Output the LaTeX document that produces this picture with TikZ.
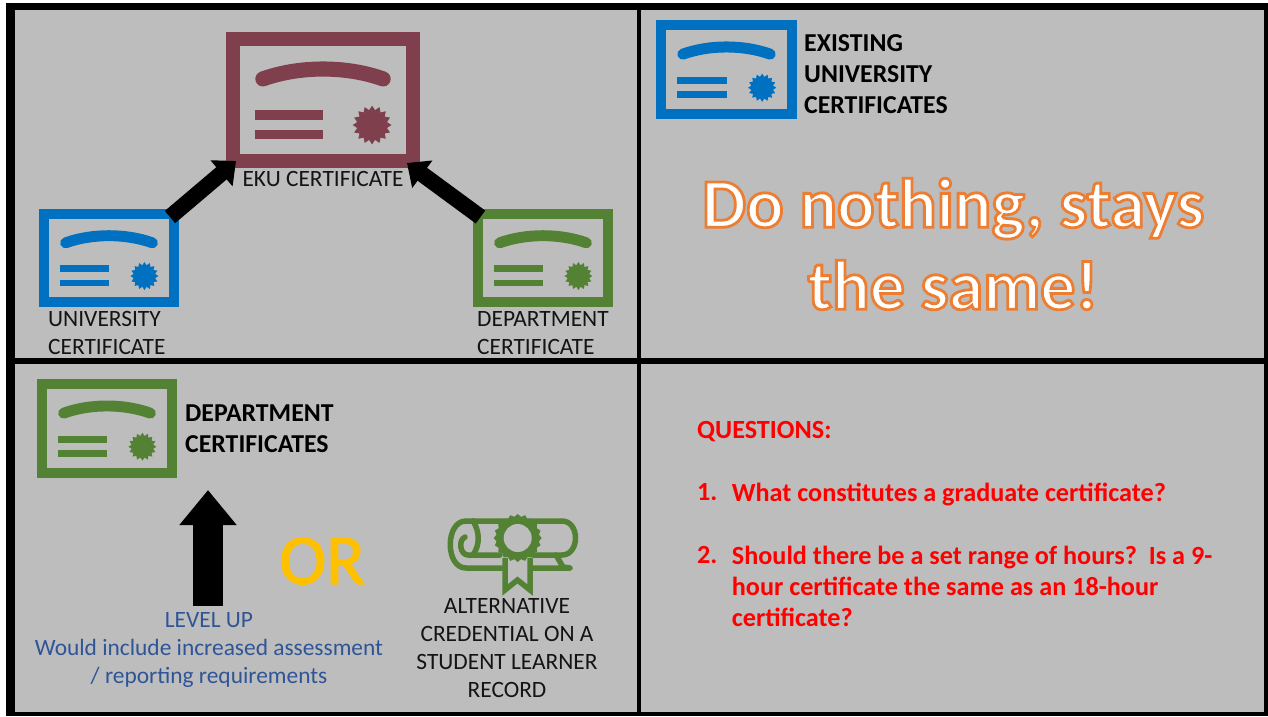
\documentclass[tikz,border=0pt]{standalone}
\usepackage{fontspec}
\setmainfont{Carlito}
\newfontfamily\slogan[FakeBold=4]{Carlito}
\newfontfamily\orfont[FakeBold=2]{Carlito}
\usetikzlibrary{positioning,arrows.meta,shapes.geometric}
\definecolor{panelgray}{HTML}{BDBDBD}
\definecolor{certblue}{HTML}{0070C0}
\definecolor{certgreen}{HTML}{548235}
\definecolor{certmaroon}{HTML}{7F3F4D}
\definecolor{textblue}{HTML}{2F5597}
\definecolor{orgold}{HTML}{FFC000}
\tikzset{
  label/.style={font=\fontsize{23.4}{28}\selectfont,align=center,inner sep=0pt,text=black!92},
  boldlabel/.style={font=\fontsize{25.8}{31}\selectfont\bfseries,align=left,anchor=north west,inner sep=0pt},
  redlabel/.style={font=\fontsize{26.2}{31}\selectfont\bfseries,align=left,anchor=north west,inner sep=0pt,text=red},
  bigarrow/.style={line width=16pt,-{Triangle[length=19pt,width=33pt]}}
}
% #1 name, #2 left, #3 top, #4 width, #5 height, #6 colour
\newcommand{\certicon}[6]{
  \node[draw=#6,line width=0.072*#4 pt,minimum width=0.928*#4 pt,minimum height=#5 pt-0.072*#4 pt,inner sep=0pt,anchor=north west] (#1) at (#2,#3) {};
  \begin{scope}[shift={(#2,#3)},x=#4 pt,y=-#5 pt]
    \draw[#6,line width=0.078*#4 pt,line cap=round] (0.19,0.345) .. controls (0.38,0.248) and (0.62,0.248) .. (0.81,0.345);
    \fill[#6] (0.15,0.574) rectangle (0.5,0.647);
    \fill[#6] (0.15,0.72) rectangle (0.5,0.79);
    \node[star,star points=16,star point ratio=1.28,fill=#6,inner sep=0pt,minimum size=0.2*#4 pt] (#1seal) at (0.753,0.684) {};
  \end{scope}
}
\begin{document}
\begin{tikzpicture}[x=1pt,y=-1pt]
\useasboundingbox (0,0) rectangle (1268,716);
% panels
\fill[white] (0,0) rectangle (1268,716);
\fill[black] (6,3) rectangle (1268,716);
\fill[panelgray] (15,10) rectangle (1264,712);
\fill[black] (637,10) rectangle (641,712);
\fill[black] (15,358) rectangle (1264,364);
% top left
\certicon{eku}{226}{32}{194}{136}{certmaroon}
\certicon{uni}{39}{209}{140}{98}{certblue}
\certicon{dept}{473}{209}{140}{98}{certgreen}
\node[label] (ekulabel) at (323,179) {EKU CERTIFICATE};
\node[label,align=left,anchor=north west] (unilabel) at (48,311) {UNIVERSITY\\CERTIFICATE};
\node[label,align=left,anchor=north west] (deptlabel) at (477,311) {DEPARTMENT\\CERTIFICATE};
\coordinate (unitail) at (170,217);
\coordinate (ekuleft) at (236,161);
\coordinate (depttail) at (480.5,217);
\coordinate (ekuright) at (407,163);
\draw[bigarrow] (unitail) -- (ekuleft);
\draw[bigarrow] (depttail) -- (ekuright);
% top right
\certicon{existing}{656}{20}{141}{99}{certblue}
\node[boldlabel] (existinglabel) at (804,34) {EXISTING\\UNIVERSITY\\CERTIFICATES};
\node[font=\fontsize{70}{82}\selectfont\slogan\bfseries,align=center,inner sep=0pt] (stays) at (953,244)
  {\color{white}\special{pdf:code 0.93 0.49 0.19 RG}Do nothing, stays\\\color{white}\special{pdf:code 0.93 0.49 0.19 RG}the same!};
% bottom left
\certicon{deptb}{37}{379}{140}{99}{certgreen}
\node[boldlabel] (deptblabel) at (185,405) {DEPARTMENT\\CERTIFICATES};
\node[label,text=textblue] (levelup) at (209,649.5) {LEVEL UP\\Would include increased assessment\\/ reporting requirements};
\coordinate (uptip) at (208,490);
\coordinate (uptail) at (208,606);
\draw[line width=30pt,-{Triangle[length=35pt,width=55pt]}] (uptail) -- (uptip);
\node[font=\fontsize{71}{72}\selectfont\orfont,text=orgold,inner sep=0pt] (orword) at (322,561) {OR};
% diploma
\begin{scope}[certgreen,line width=5.5pt,line cap=round,line join=round]
  \draw (473,521) -- (562,521) .. controls (580,521) and (580,555) .. (562,555) -- (533,555);
  \draw (500,555) -- (468,555) .. controls (460,555) and (458,540) .. (465,537);
  \draw (473,521) .. controls (480,532) and (480,545) .. (473,555);
  \draw (473,521) -- (466,521) .. controls (445,521) and (445,568) .. (466,568) -- (502,568);
  \draw (533,568) -- (570,568) -- (563,567) -- (556,555);
  \draw[fill=panelgray,line join=miter,line cap=butt] (505,558) -- (505,590) -- (517.5,580) -- (530,590) -- (530,558);
\end{scope}
\node[star,star points=20,star point ratio=1.12,fill=certgreen,inner sep=0pt,minimum size=48pt] (sealouter) at (517.7,538) {};
\node[circle,fill=panelgray,inner sep=0pt,minimum size=28pt] (sealhole) at (sealouter) {};
\node[label] (altlabel) at (507,648.5) {ALTERNATIVE\\CREDENTIAL ON A\\STUDENT LEARNER\\RECORD};
% bottom right
\node[redlabel] (questions) at (697,421) {QUESTIONS:};
\node[redlabel] (qone) at (697,483) {1.};
\node[redlabel,right=14pt of qone.north east,anchor=north west] (qonetext) {What constitutes a graduate certificate?};
\node[redlabel] (qtwo) at (697,546) {2.};
\node[redlabel,right=14pt of qtwo.north east,anchor=north west] (qtwotext) {Should there be a set range of hours?\ \ Is a 9-\\hour certificate the same as an 18-hour\\certificate?};
\end{tikzpicture}
\end{document}
